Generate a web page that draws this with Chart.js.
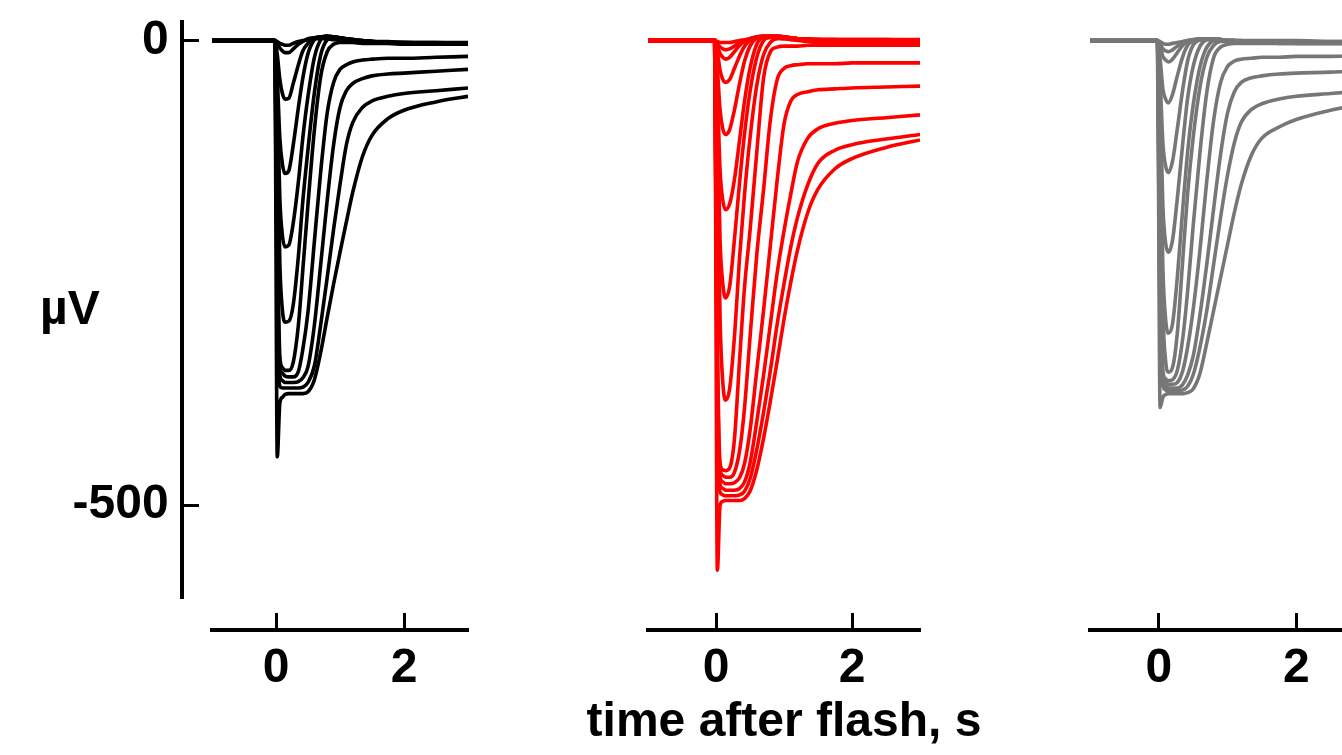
<!DOCTYPE html>
<html>
<head>
<meta charset="utf-8">
<script src="https://cdn.jsdelivr.net/npm/chart.js@4.4.1/dist/chart.umd.min.js"></script>
<style>
  html, body { margin: 0; padding: 0; background: #fff; overflow: hidden; }
  body { width: 1342px; height: 755px; position: relative; font-family: Arial, "Liberation Sans", sans-serif; }
  canvas { position: absolute; top: 0; }
  .lbl { position: absolute; font-weight: bold; line-height: 1; color: #000; white-space: nowrap; }
</style>
</head>
<body>
<canvas id="c1" width="500" height="755" style="left:0px"></canvas>
<canvas id="c2" width="440" height="755" style="left:520px"></canvas>
<canvas id="c3" width="400" height="755" style="left:1000px"></canvas>
<div class="lbl" style="left:40px; top:284px; font-size:48px">µV</div>
<div class="lbl" style="left:784px; top:696px; font-size:48px; transform:translateX(-50%)">time after flash, s</div>
<script>
// sample times (s) shared by every trace
const timeS = [-1, -0.02, 0.02, 0.06, 0.1, 0.14, 0.2, 0.27, 0.35, 0.42, 0.5, 0.6, 0.7, 0.8, 0.9, 1.0, 1.1, 1.2, 1.35, 1.5, 1.75, 2.0, 2.5, 3.0];
const xTickValues = [0, 2];
const yTickValues = [0, -500];

// responses in µV, one row per flash
const blackTraces = [
  [0, 0, -1, -3, -4, -5, -5, -3, -1, 0, 1, 2, 2, 2, 1, 1, 0, 0, -1, -1, -1, -2, -2, -2],
  [0, 0, -3, -8, -11, -13, -13, -9, -4, -1, 2, 3, 3, 2, 2, 1, 0, 0, -1, -1, -2, -2, -2, -3],
  [0, 0, -15, -42, -57, -63, -62, -46, -26, -11, -3, 3, 4, 4, 3, 2, 1, 0, -1, -1, -2, -2, -3, -3],
  [0, 0, -40, -105, -133, -143, -140, -112, -72, -40, -14, 1, 4, 5, 4, 3, 2, 1, 0, -1, -2, -2, -3, -3],
  [0, 0, -65, -170, -210, -222, -220, -196, -152, -104, -60, -18, 1, 5, 4, 3, 2, 1, 0, -1, -2, -3, -3, -4],
  [0, 0, -90, -240, -290, -303, -302, -284, -232, -172, -117, -56, -15, 1, 4, 3, 2, 1, 0, -1, -2, -3, -3, -4],
  [0, 0, -200, -340, -352, -355, -355, -346, -306, -246, -176, -96, -38, -12, -4, -2, -2, -2, -3, -3, -3, -4, -4, -4],
  [0, 0, -230, -350, -358, -361, -362, -362, -356, -332, -292, -216, -140, -78, -45, -31, -26, -23, -21, -20, -19, -19, -18, -17],
  [0, 0, -260, -360, -366, -368, -368, -368, -367, -363, -351, -306, -240, -172, -112, -72, -54, -46, -41, -38, -36, -35, -33, -31],
  [0, 0, -300, -372, -374, -374, -374, -374, -374, -373, -368, -350, -305, -255, -203, -155, -112, -88, -72, -65, -60, -57, -54, -51],
  [0, 0, -448, -390, -384, -381, -380, -380, -380, -380, -378, -365, -335, -298, -262, -228, -195, -163, -125, -102, -84, -75, -66, -60]
];

const redTraces = [
  [0, 0, -1, -2, -2, -2, -2, -1, 0, 1, 2, 3, 3, 3, 3, 2, 2, 2, 2, 1, 1, 1, 1, 1],
  [0, 0, -3, -7, -9, -10, -9, -6, -2, 0, 2, 3, 4, 4, 3, 3, 2, 2, 2, 1, 1, 1, 1, 0],
  [0, 0, -6, -14, -18, -20, -18, -12, -5, -1, 2, 4, 4, 4, 4, 3, 2, 2, 1, 1, 1, 0, 0, 0],
  [0, 0, -12, -32, -42, -45, -42, -30, -16, -6, 0, 4, 5, 5, 4, 3, 3, 2, 1, 1, 0, 0, 0, 0],
  [0, 0, -30, -75, -95, -101, -96, -75, -45, -22, -6, 3, 5, 5, 5, 4, 3, 2, 1, 1, 0, 0, 0, -1],
  [0, 0, -55, -140, -172, -182, -176, -150, -105, -65, -30, -4, 4, 5, 5, 4, 3, 2, 1, 0, 0, -1, -1, -1],
  [0, 0, -85, -215, -262, -277, -265, -215, -150, -100, -55, -18, 0, 4, 5, 4, 3, 2, 1, 0, -1, -1, -2, -2],
  [0, 0, -120, -300, -368, -387, -375, -320, -230, -165, -105, -48, -15, -2, 2, 2, 1, 0, -1, -2, -2, -3, -3, -3],
  [0, 0, -320, -455, -462, -463, -460, -430, -340, -265, -205, -120, -40, -12, -7, -6, -6, -6, -5, -5, -5, -5, -5, -5],
  [0, 0, -340, -462, -468, -470, -470, -465, -440, -395, -320, -230, -160, -85, -42, -30, -27, -26, -25, -25, -25, -24, -24, -24],
  [0, 0, -370, -470, -475, -477, -477, -476, -470, -455, -420, -355, -290, -220, -150, -90, -65, -58, -55, -53, -52, -51, -50, -49],
  [0, 0, -400, -478, -482, -484, -484, -484, -482, -475, -455, -410, -360, -305, -250, -205, -165, -130, -105, -95, -89, -86, -83, -80],
  [0, 0, -440, -486, -489, -490, -490, -490, -489, -485, -472, -440, -400, -355, -305, -262, -222, -190, -155, -132, -118, -112, -106, -101],
  [0, 0, -570, -500, -496, -495, -495, -495, -495, -493, -485, -462, -428, -388, -345, -300, -260, -225, -185, -160, -138, -127, -115, -107]
];

const grayTraces = [
  [0, 0, -1, -3, -4, -4, -3, -2, -1, 0, 0, 1, 1, 1, 1, 0, 0, 0, 0, 0, 0, 0, -1, -1],
  [0, 0, -3, -9, -11, -12, -10, -6, -2, 0, 1, 1, 2, 1, 1, 0, 0, 0, -1, -1, -1, -1, -1, -1],
  [0, 0, -6, -17, -21, -23, -20, -13, -5, -1, 1, 2, 2, 1, 1, 0, 0, -1, -1, -1, -1, -1, -2, -2],
  [0, 0, -20, -52, -63, -67, -58, -38, -17, -5, 0, 2, 2, 2, 1, 0, 0, -1, -1, -1, -2, -2, -2, -2],
  [0, 0, -42, -110, -135, -142, -130, -95, -52, -22, -5, 1, 2, 2, 1, 0, 0, -1, -1, -2, -2, -2, -2, -2],
  [0, 0, -68, -178, -218, -228, -215, -170, -110, -62, -28, -6, 1, 2, 1, 0, 0, -1, -1, -2, -2, -2, -2, -3],
  [0, 0, -95, -245, -300, -315, -305, -255, -180, -120, -70, -28, -7, 0, 1, 0, 0, -1, -2, -2, -2, -3, -3, -3],
  [0, 0, -110, -290, -345, -357, -352, -315, -235, -165, -105, -50, -18, -5, -1, -1, -1, -2, -2, -2, -3, -3, -3, -3],
  [0, 0, -250, -355, -364, -366, -365, -355, -320, -270, -200, -120, -55, -18, -7, -4, -3, -3, -3, -3, -3, -3, -3, -3],
  [0, 0, -280, -362, -368, -370, -370, -368, -355, -330, -290, -225, -150, -85, -45, -28, -22, -20, -19, -18, -18, -17, -17, -16],
  [0, 0, -300, -368, -372, -374, -374, -374, -370, -360, -340, -295, -240, -180, -122, -78, -55, -45, -40, -38, -36, -35, -34, -32],
  [0, 0, -330, -372, -376, -377, -377, -377, -376, -372, -360, -330, -290, -240, -190, -145, -110, -88, -74, -68, -63, -60, -57, -54],
  [0, 0, -395, -384, -381, -380, -380, -380, -380, -379, -375, -358, -325, -290, -255, -220, -185, -155, -123, -105, -93, -85, -75, -68]
];

const FONT = 'Arial, "Liberation Sans", sans-serif';
const Y_MIN = -600, Y_MAX = 20;
const X_AXIS_AT = -634;   // x axis sits below the traces
const Y_AXIS_AT = -1.47;  // y axis sits left of the traces

function makePanel(id, traces, color, pad, showY) {
  const datasets = traces.map(vals => ({
    data: vals.map((v, i) => ({ x: timeS[i], y: v })),
    borderColor: color,
    borderWidth: 3.6,
    pointRadius: 0,
    fill: false,
    cubicInterpolationMode: 'monotone'
  }));

  return new Chart(document.getElementById(id), {
    type: 'line',
    data: { datasets },
    options: {
      responsive: false,
      animation: false,
      events: [],
      layout: { padding: pad },
      plugins: { legend: { display: false }, tooltip: { enabled: false } },
      scales: {
        x: {
          type: 'linear',
          min: -1,
          max: 3,
          position: { y: X_AXIS_AT },
          afterBuildTicks: s => { s.ticks = xTickValues.map(v => ({ value: v })); },
          grid: { drawOnChartArea: false, drawTicks: true, tickLength: -19, tickWidth: 3, tickColor: '#000' },
          border: { display: true, width: 4, color: '#000' },
          ticks: { color: '#000', padding: 29, maxRotation: 0, font: { family: FONT, size: 48, weight: 'bold' } }
        },
        y: {
          type: 'linear',
          min: Y_MIN,
          max: Y_MAX,
          display: showY,
          position: { x: Y_AXIS_AT },
          afterBuildTicks: s => { s.ticks = yTickValues.map(v => ({ value: v })); },
          grid: { drawOnChartArea: false, drawTicks: true, tickLength: -19, tickWidth: 3, tickColor: '#000' },
          border: { display: true, width: 4, color: '#000' },
          ticks: {
            color: '#000',
            padding: 0,
            font: { family: FONT, size: 48, weight: 'bold', lineHeight: 0.8 },
            callback: v => v + ' '
          }
        }
      }
    }
  });
}

makePanel('c1', blackTraces, '#000000', { left: 212, right: 32, top: 22, bottom: 157 }, true);
makePanel('c2', redTraces, '#ff0000', { left: 128, right: 40, top: 22, bottom: 157 }, false);
makePanel('c3', grayTraces, '#777777', { left: 90, right: 35, top: 22, bottom: 157 }, false);
</script>
</body>
</html>
